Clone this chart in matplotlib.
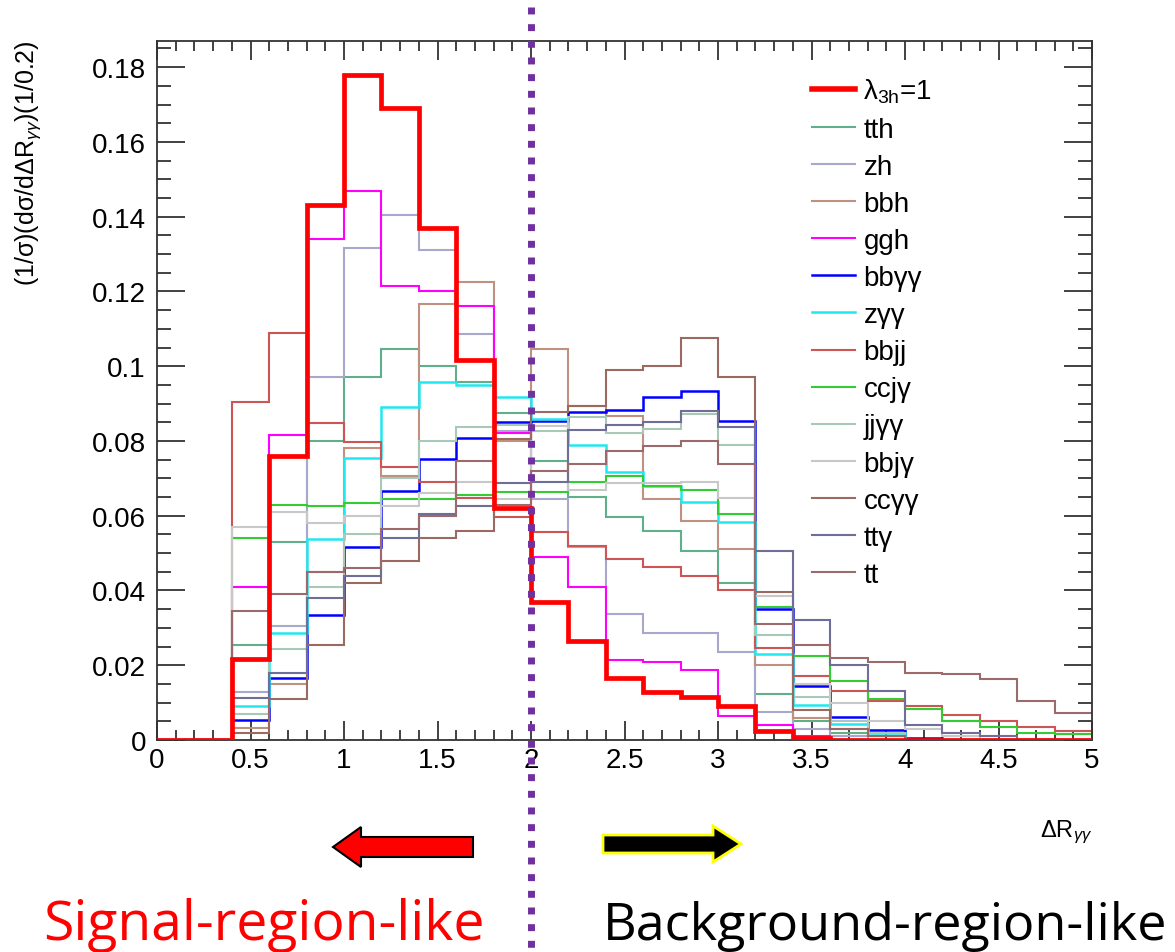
import numpy as np
import matplotlib
matplotlib.use("Agg")
import matplotlib.pyplot as plt
from matplotlib.patches import FancyArrow
from matplotlib.lines import Line2D
from matplotlib.transforms import blended_transform_factory
from matplotlib.ticker import MultipleLocator, FuncFormatter

plt.rcParams['font.family'] = ['Liberation Sans', 'DejaVu Sans']
plt.rcParams['mathtext.fontset'] = 'custom'
plt.rcParams['mathtext.rm'] = 'Liberation Sans'
plt.rcParams['mathtext.it'] = 'Liberation Sans:italic'

# bin edges: 0 .. 5 in steps of 0.2
edges = np.round(np.arange(0, 5.0001, 0.2), 2)

labels = [r'$\mathregular{\lambda_{3h}}$=1', 'tth', 'zh', 'bbh', 'ggh', 'bbγγ', 'zγγ',
          'bbjj', 'ccjγ', 'jjγγ', 'bbjγ', 'ccγγ', 'ttγ', 'tt']

lam3h = [0, 0, .0217, .076, .143, .178, .169, .137, .1016, .062, .037, .0265, .0166, .0128,
         .0115, .009, .0024, .0005, 0, 0, 0, 0, 0, 0, 0]
tth = [0, 0, .0254, .053, .080, .097, .1046, .100, .0957, .0875, .0746, .065, .0596, .056,
       .0505, .042, .0123, .005, .002, .001, 0, 0, 0, 0, 0]
zh = [0, 0, .0128, .0306, .097, .1316, .1404, .131, .1086, .0827, .0645, .0516, .0337, .0286,
      .0286, .0235, .0075, .003, .001, 0, 0, 0, 0, 0, 0]
bbh = [0, 0, .0032, .015, .045, .078, .0706, .1166, .1225, .080, .1046, .0893, .0866, .0645,
       .0586, .051, .020, .006, .003, .001, 0, 0, 0, 0, 0]
ggh = [0, 0, .041, .0816, .134, .147, .1214, .120, .116, .082, .049, .041, .0214, .0208,
       .0187, .0064, .004, .001, 0, 0, 0, 0, 0, 0, 0]
bbyy = [0, 0, .0054, .0166, .0334, .0516, .0666, .0752, .0808, .085, .0853, .0877, .0882, .0917,
        .0934, .0853, .035, .0145, .0062, .0027, .0005, 0, 0, 0, 0]
zyy = [0, 0, .009, .0286, .0538, .0754, .089, .0957, .095, .0917, .086, .079, .0717, .068,
       .0636, .0583, .023, .0094, .0043, .002, 0, 0, 0, 0, 0]
bbjj = [0, 0, .0904, .109, .0848, .0797, .073, .069, .0647, .0596, .0556, .052, .0484, .0463,
        .044, .040, .0247, .017, .013, .0105, .009, .0067, .005, .0035, .0025]
ccjy = [0, 0, .054, .063, .0625, .0634, .0645, .0645, .0655, .0664, .0664, .069, .0706, .068,
        .067, .0604, .0355, .0225, .0158, .011, .0083, .005, .0035, .002, .0015]
jjyy = [0, 0, .007, .0243, .041, .055, .070, .080, .0837, .0843, .0827, .0863, .082, .0832,
        .0872, .079, .028, .0115, .005, .002, 0, 0, 0, 0, 0]
bbjy = [0, 0, .057, .061, .058, .060, .0627, .066, .069, .0645, .084, .067, .0687, .0687,
        .069, .0647, .0386, .015, .010, .005, .003, .001, 0, 0, 0]
ccyy = [0, 0, .002, .011, .0254, .042, .048, .054, .056, .0805, .0877, .0893, .099, .100,
        .1075, .097, .0395, .008, .003, .001, 0, 0, 0, 0, 0]
tty = [0, 0, .0112, .018, .038, .044, .054, .0605, .0627, .0687, .069, .083, .0843, .085,
       .088, .0837, .0506, .032, .020, .013, .004, .002, .001, 0, 0]
tt = [0, 0, .0345, .039, .045, .046, .0565, .060, .0746, .063, .072, .0738, .0773, .0787,
      .080, .0738, .031, .0254, .022, .021, .018, .0177, .0163, .0105, .0072]

series = [lam3h, tth, zh, bbh, ggh, bbyy, zyy, bbjj, ccjy, jjyy, bbjy, ccyy, tty, tt]
colors = ['#ff0000', '#5fb08a', '#a8a8cc', '#c09080', '#ff00ff', '#0000ff', '#20e8f0',
          '#cc5555', '#33cc33', '#a8c8b8', '#c8c8c8', '#9a6a60', '#6e6e96', '#9b6b6b']
widths = [3.4, 1.5, 1.5, 1.5, 1.5, 1.8, 1.8, 1.5, 1.5, 1.5, 1.5, 1.5, 1.5, 1.5]

W, H = 1175, 953
fig = plt.figure(figsize=(W / 100, H / 100), dpi=100)
ax = fig.add_axes([157 / W, 1 - 741 / H, 935 / W, (741 - 42) / H])

for i in list(range(1, len(series))) + [0]:
    ax.stairs(series[i], edges, color=colors[i], linewidth=widths[i],
              baseline=None, label=labels[i], zorder=3 if i == 0 else 2)

ax.set_xlim(0, 5)
ax.set_ylim(0, 0.187)

ax.xaxis.set_major_locator(MultipleLocator(0.5))
ax.xaxis.set_minor_locator(MultipleLocator(0.1))
ax.yaxis.set_major_locator(MultipleLocator(0.02))
ax.yaxis.set_minor_locator(MultipleLocator(0.005))
fmt = FuncFormatter(lambda v, p: f"{round(v, 3):g}")
ax.xaxis.set_major_formatter(fmt)
ax.yaxis.set_major_formatter(fmt)
ax.tick_params(axis='both', which='both', direction='in', top=True, right=True,
               colors='#333333', labelcolor='black', width=1.3)
ax.tick_params(axis='x', which='major', length=14, labelsize=20, pad=5)
ax.tick_params(axis='x', which='minor', length=7)
ax.tick_params(axis='y', which='major', length=20, labelsize=20, pad=8)
ax.tick_params(axis='y', which='minor', length=10)
for s in ax.spines.values():
    s.set_linewidth(1.3)
    s.set_color('#333333')

# axis titles (ROOT style)
fig.text(28 / W, 1 - 40 / H, r'(1/σ)(dσ/dΔR$_{\gamma\gamma}$)(1/0.2)', rotation=90,
         ha='center', va='top', fontsize=18)
fig.text(1092 / W, 1 - 832 / H, r'ΔR$_{\gamma\gamma}$', ha='right', va='center', fontsize=17)

# legend
leg_handles = [Line2D([], [], color=colors[i], linewidth=widths[i] if i else 4.0)
               for i in range(len(series))]
ax.legend(leg_handles, labels, loc='upper left', bbox_to_anchor=(812 / W, 1 - 78 / H),
          bbox_transform=fig.transFigure, frameon=False, fontsize=20,
          handlelength=1.55, handletextpad=0.3, labelspacing=0.40, borderpad=0,
          borderaxespad=0)

# purple dotted divider at x = 2
tr = blended_transform_factory(ax.transData, fig.transFigure)
ax.plot([2, 2], [1 - 8 / H, 1 - 950 / H], transform=tr, color='#7030a0', linewidth=5,
        linestyle=(0, (1, 1.4)), dash_capstyle='butt', clip_on=False, zorder=5)

# arrows (inch coordinates)
it = fig.dpi_scale_trans
fig.patches.append(FancyArrow(4.73, (H - 848) / 100, -1.12, 0, width=0.20, head_width=0.40,
                              head_length=0.28, length_includes_head=False,
                              facecolor='#ff0000', edgecolor='black', linewidth=1.5,
                              transform=it, figure=fig))
fig.patches.append(FancyArrow(6.03, (H - 845) / 100, 1.10, 0, width=0.18, head_width=0.36,
                              head_length=0.28, length_includes_head=False,
                              facecolor='black', edgecolor='#ffff00', linewidth=2,
                              transform=it, figure=fig))

fig.text(43 / W, (H - 940) / H, 'Signal-region-like', color='#ff0000', fontsize=39.8,
         family='Open Sans', ha='left', va='baseline')
fig.text(603 / W, (H - 940) / H, 'Background-region-like', color='black', fontsize=37.5,
         family='Open Sans', ha='left', va='baseline')

fig.savefig('out.png', dpi=100)
